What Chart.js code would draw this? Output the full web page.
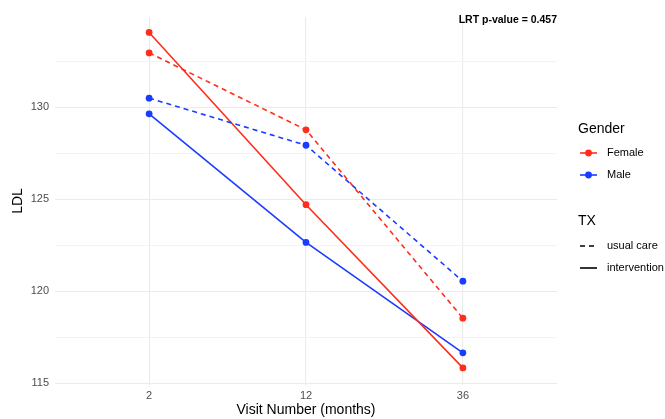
<!DOCTYPE html>
<html>
<head>
<meta charset="utf-8">
<script src="https://cdn.jsdelivr.net/npm/chart.js@4"></script>
<style>
html,body{margin:0;padding:0;background:#fff;}
#wrap{width:665px;height:419px;position:relative;}
</style>
</head>
<body>
<div id="wrap"><canvas id="c" width="665" height="419"></canvas></div>
<script>
const visits = ["2", "12", "36"];
const femaleUsual = [132.95, 128.77, 118.53];
const femaleInterv = [134.06, 124.70, 115.83];
const maleUsual = [130.49, 127.93, 120.54];
const maleInterv = [129.64, 122.65, 116.65];
const yTicks = [115, 117.5, 120, 122.5, 125, 127.5, 130, 132.5];
const genderLabels = ["Female", "Male"];
const txLabels = ["usual care", "intervention"];
const annotation = "LRT p-value = 0.457";

const RED = "#FF2D1A";
const BLUE = "#1A3CFF";
const DASH = [5, 4];
const FONT = "Liberation Sans, Arial, sans-serif";

function series(vals){ return vals.map((v,i)=>({x:i, y:v})); }
function ds(label, vals, color, dashed){
  return {label, data: series(vals), borderColor: color, backgroundColor: color,
    borderWidth: 1.6, borderDash: dashed ? DASH : [], pointRadius: 3.4, pointHoverRadius: 3.4,
    pointBorderWidth: 0, tension: 0, fill: false};
}

const legendPlugin = {
  id: 'customLegend',
  afterDraw(chart){
    const ctx = chart.ctx;
    ctx.save();
    ctx.textBaseline = 'middle';
    ctx.fillStyle = '#000';
    ctx.font = 'bold 10.5px ' + FONT;
    ctx.textAlign = 'right';
    ctx.fillText(annotation, chart.chartArea.right, 20);
    ctx.textAlign = 'left';
    ctx.font = '14px ' + FONT;
    ctx.fillText("Gender", 578, 129);
    const gColors = [RED, BLUE];
    const gy = [153, 175];
    ctx.font = '11px ' + FONT;
    genderLabels.forEach((lab, i) => {
      ctx.strokeStyle = gColors[i]; ctx.lineWidth = 1.6; ctx.setLineDash([]);
      ctx.beginPath(); ctx.moveTo(580, gy[i]); ctx.lineTo(597, gy[i]); ctx.stroke();
      ctx.fillStyle = gColors[i];
      ctx.beginPath(); ctx.arc(588.5, gy[i], 3.4, 0, Math.PI*2); ctx.fill();
      ctx.fillStyle = '#000';
      ctx.fillText(lab, 607, gy[i]);
    });
    ctx.font = '14px ' + FONT;
    ctx.fillText("TX", 578, 221);
    const ty = [246, 268];
    ctx.font = '11px ' + FONT;
    txLabels.forEach((lab, i) => {
      ctx.strokeStyle = '#000'; ctx.lineWidth = 1.6;
      ctx.setLineDash(i === 0 ? [5,4] : []);
      ctx.beginPath(); ctx.moveTo(580, ty[i]); ctx.lineTo(597, ty[i]); ctx.stroke();
      ctx.setLineDash([]);
      ctx.fillStyle = '#000';
      ctx.fillText(lab, 607, ty[i]);
    });
    ctx.restore();
  }
};

new Chart(document.getElementById('c'), {
  type: 'line',
  data: {
    datasets: [
      ds("Female usual care", femaleUsual, RED, true),
      ds("Male usual care", maleUsual, BLUE, true),
      ds("Female intervention", femaleInterv, RED, false),
      ds("Male intervention", maleInterv, BLUE, false)
    ]
  },
  options: {
    responsive: false,
    animation: false,
    devicePixelRatio: 1,
    layout: {padding: {left: 0, right: 108, top: 17, bottom: 0}},
    plugins: {legend: {display: false}, tooltip: {enabled: false}},
    scales: {
      x: {
        type: 'linear', min: -0.6, max: 2.6,
        afterBuildTicks: (s) => { s.ticks = visits.map((v,i)=>({value:i})); },
        afterFit: (s) => { s.height = 34; },
        ticks: {callback: (v) => visits[v], color: '#4D4D4D', font: {size: 11, family: FONT}, padding: 4, maxRotation: 0},
        grid: {color: '#EBEBEB', lineWidth: 1.1, drawTicks: false},
        border: {display: false},
        title: {display: true, text: "Visit Number (months)", color: '#000', font: {size: 14, family: FONT}, padding: {top: 2, bottom: 0}}
      },
      y: {
        type: 'linear', min: 114.9, max: 134.9,
        afterBuildTicks: (s) => { s.ticks = yTicks.map(v=>({value:v})); },
        afterFit: (s) => { s.width = 55; },
        ticks: {callback: (v) => (v % 5 === 0 ? String(v) : ''), color: '#4D4D4D', font: {size: 11, family: FONT}, padding: 6},
        grid: {color: (c) => (c.tick && c.tick.value % 5 === 0 ? '#EBEBEB' : '#F3F3F3'), lineWidth: 1.1, drawTicks: false},
        border: {display: false},
        title: {display: true, text: "LDL", color: '#000', font: {size: 14, family: FONT}, padding: {top: 10, bottom: 0}}
      }
    }
  },
  plugins: [legendPlugin]
});
</script>
</body>
</html>
